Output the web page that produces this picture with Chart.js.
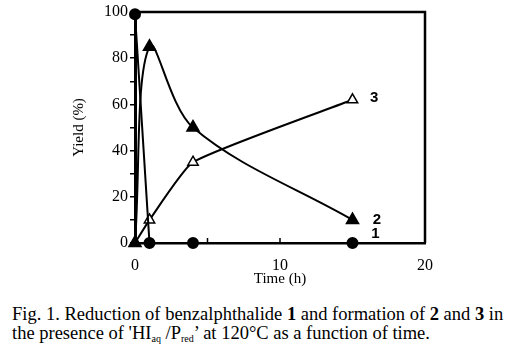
<!DOCTYPE html>
<html><head><meta charset="utf-8">
<script src="https://cdn.jsdelivr.net/npm/chart.js@4/dist/chart.umd.min.js"></script>
<style>
html,body{margin:0;padding:0;background:#fff;}
#wrap{position:relative;width:513px;height:352px;overflow:hidden;}
#c{position:absolute;left:0;top:0;}
#cap{position:absolute;left:12px;top:305px;font-family:"Liberation Serif","Times New Roman",serif;font-size:18.5px;line-height:19px;color:#000;white-space:nowrap;}
#cap sub{font-size:10px;vertical-align:-3px;line-height:0;}
</style></head>
<body><div id="wrap"><canvas id="c" width="513" height="292"></canvas>
<div id="cap">Fig. 1. Reduction of benzalphthalide <b>1</b> and formation of <b>2</b> and <b>3</b> in<br>the presence of 'HI<sub>aq</sub> /P<sub>red</sub>’ at 120°C as a function of time.</div></div>
<script>
const timeH = [0, 1, 4, 15];
const yield1 = [99, 0, 0, 0];
const yield2 = [0, 85, 50, 10];
const yield3 = [0, 10, 35, 62];
const seriesLabels = ['1', '2', '3'];
const labelPos = [[16.3, 4], [16.4, 10], [16.2, 63]];
const xTicks = [0, 10, 20];
const yTicks = [0, 20, 40, 60, 80, 100];

const pts = (ys) => timeH.map((t, i) => ({x: t, y: ys[i]}));
const serif = "'Liberation Serif', 'Times New Roman', serif";
Chart.defaults.font.family = serif;
Chart.defaults.color = '#000';

const extras = {
  id: 'extras',
  afterDatasetsDraw(chart) {
    const {ctx, chartArea: a, scales: {x, y}} = chart;
    ctx.save();
    ctx.strokeStyle = '#000';
    ctx.lineWidth = 2.5;
    ctx.beginPath();
    ctx.moveTo(a.left, a.top); ctx.lineTo(a.right, a.top); ctx.lineTo(a.right, a.bottom);
    ctx.stroke();
    ctx.lineWidth = 1.5;
    for (let v = 0; v <= 20; v += 5) {
      const px = x.getPixelForValue(v);
      ctx.beginPath(); ctx.moveTo(px, a.bottom); ctx.lineTo(px, a.bottom - 5); ctx.stroke();
    }
    ctx.fillStyle = '#000';
    ctx.font = 'bold 15px "Liberation Sans", Arial, sans-serif';
    ctx.textAlign = 'left'; ctx.textBaseline = 'middle';
    seriesLabels.forEach((s, i) => {
      ctx.fillText(s, x.getPixelForValue(labelPos[i][0]), y.getPixelForValue(labelPos[i][1]));
    });
    ctx.restore();
  }
};

new Chart(document.getElementById('c'), {
  type: 'line',
  data: {
    datasets: [
      {data: pts(yield1), borderColor: '#000', borderWidth: 2, pointStyle: 'circle', pointRadius: 5,
       pointBackgroundColor: '#000', pointBorderColor: '#000', tension: 0, clip: false},
      {data: pts(yield2), borderColor: '#000', borderWidth: 2, pointStyle: 'triangle', pointRadius: 6.5,
       pointBackgroundColor: '#000', pointBorderColor: '#000', tension: 0.35, clip: false},
      {data: pts(yield3), borderColor: '#000', borderWidth: 2, pointStyle: 'triangle', pointRadius: 6,
       pointBackgroundColor: '#fff', pointBorderColor: '#000', pointBorderWidth: 1.5, tension: 0.15, clip: false}
    ]
  },
  options: {
    responsive: false, animation: false, events: [],
    layout: {padding: {top: 12, right: 88, left: 70, bottom: 0}},
    plugins: {legend: {display: false}, tooltip: {enabled: false}},
    scales: {
      x: {
        type: 'linear', min: 0, max: 20,
        afterFit(s) { s.height = 49; },
        afterBuildTicks(s) { s.ticks = xTicks.map(v => ({value: v})); },
        grid: {display: false},
        border: {display: true, color: '#000', width: 2.5},
        ticks: {color: '#000', font: {family: serif, size: 16}, padding: 5, maxRotation: 0},
        title: {display: true, text: 'Time (h)', color: '#000', font: {family: serif, size: 15}, padding: {top: 1}}
      },
      y: {
        min: 0, max: 100,
        afterFit(s) { s.width = 65; },
        afterBuildTicks(s) { const t = []; for (let v = 0; v <= 100; v += 10) t.push({value: v}); s.ticks = t; },
        grid: {drawOnChartArea: false, drawTicks: true, tickLength: 5, color: '#000', lineWidth: 1.5},
        border: {display: true, color: '#000', width: 3},
        ticks: {color: '#000', font: {family: serif, size: 16}, padding: 2,
                callback: (v) => yTicks.includes(v) ? String(v) : ''},
        title: {display: true, text: 'Yield (%)', color: '#000', font: {family: serif, size: 15}, padding: {top: 0, bottom: 0}}
      }
    }
  },
  plugins: [extras]
});
</script></body></html>
